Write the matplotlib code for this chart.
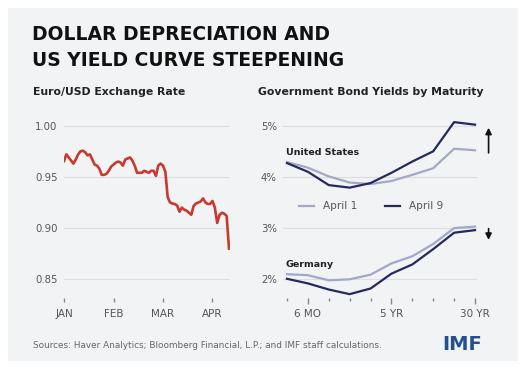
import numpy as np
import matplotlib
matplotlib.use("Agg")
import matplotlib.pyplot as plt
from matplotlib.patches import Rectangle
from matplotlib.lines import Line2D

W, H = 526, 371

# Euro per USD, business days from early January to April 9
eur_usd = [0.9655, 0.972, 0.969, 0.966, 0.963, 0.967, 0.972, 0.975, 0.9756, 0.974,
           0.971, 0.972, 0.967, 0.962, 0.961, 0.958, 0.952, 0.952, 0.953, 0.956,
           0.960, 0.962, 0.964, 0.965, 0.964, 0.961, 0.967, 0.968, 0.969, 0.966,
           0.961, 0.954, 0.954, 0.954, 0.956, 0.955, 0.954, 0.956, 0.956, 0.951,
           0.961, 0.963, 0.961, 0.955, 0.930, 0.925, 0.924, 0.9235, 0.922, 0.916,
           0.920, 0.918, 0.917, 0.915, 0.913, 0.9216, 0.924, 0.925, 0.926, 0.929,
           0.925, 0.9236, 0.9236, 0.9265, 0.920, 0.905, 0.913, 0.915, 0.914, 0.912,
           0.880]
month_labels = ["JAN", "FEB", "MAR", "APR"]
month_ticks = [0, 21, 42, 63]
fx_yticks = [0.85, 0.90, 0.95, 1.00]

# maturities: 3M 6M 1Y 2Y 3Y 5Y 7Y 10Y 20Y 30Y
maturities = ["3 MO", "6 MO", "1 YR", "2 YR", "3 YR", "5 YR", "7 YR", "10 YR", "20 YR", "30 YR"]
us_apr1 = [4.29, 4.18, 4.01, 3.89, 3.86, 3.92, 4.04, 4.17, 4.55, 4.52]
us_apr9 = [4.27, 4.10, 3.84, 3.79, 3.88, 4.08, 4.30, 4.50, 5.07, 5.02]
de_apr1 = [2.10, 2.08, 1.98, 2.00, 2.09, 2.31, 2.45, 2.69, 3.00, 3.03]
de_apr9 = [2.01, 1.92, 1.80, 1.71, 1.82, 2.11, 2.29, 2.59, 2.91, 2.96]
yld_yticks = [2, 3, 4, 5]
yld_labeled = {1: "6 MO", 5: "5 YR", 9: "30 YR"}

red = "#c8392f"
navy = "#232a5c"
light = "#a2a9c6"
panel = "#f2f3f5"
grid = "#dcdee2"
txt = "#555555"


def px(x, y):
    return x / W, 1 - y / H


def box(l, t, r, b):
    return [l / W, 1 - b / H, (r - l) / W, (b - t) / H]


fig = plt.figure(figsize=(W / 100, H / 100), dpi=100, facecolor="white")
fig.patches.append(Rectangle(px(8, 361), 510 / W, 353 / H, transform=fig.transFigure,
                             facecolor=panel, edgecolor="none", zorder=-10))

fig.text(*px(32, 35), "DOLLAR DEPRECIATION AND", fontsize=13.5, fontweight="bold",
         family="DejaVu Sans", va="center", color="#111111")
fig.text(*px(32, 60), "US YIELD CURVE STEEPENING", fontsize=13.5, fontweight="bold",
         family="DejaVu Sans", va="center", color="#111111")
fig.text(*px(33, 92), "Euro/USD Exchange Rate", fontsize=7.8, fontweight="bold",
         va="center", color="#222222")
fig.text(*px(258, 92), "Government Bond Yields by Maturity", fontsize=7.8, fontweight="bold",
         va="center", color="#222222")
fig.text(*px(33, 345), "Sources: Haver Analytics; Bloomberg Financial, L.P.; and IMF staff calculations.",
         fontsize=6.4, va="center", color="#666666")
fig.text(*px(442, 345), "IMF", fontsize=14, fontweight="bold", va="center", color="#24508f")


def style(ax):
    ax.set_facecolor("none")
    for s in ax.spines.values():
        s.set_visible(False)
    ax.grid(axis="y", color=grid, lw=0.8)
    ax.set_axisbelow(True)
    ax.tick_params(axis="y", length=0, pad=4.5, labelsize=7.3, labelcolor=txt)
    ax.tick_params(axis="x", length=3, width=1, color="#888888", pad=5,
                   labelsize=7.5, labelcolor=txt)


# left panel
ax1 = fig.add_axes(box(64, 120, 230, 298))
style(ax1)
ax1.plot(range(len(eur_usd)), eur_usd, color=red, lw=1.9, solid_joinstyle="round")
ax1.set_xlim(0, (len(eur_usd) - 1) * 166 / 165)
ax1.set_ylim(1.00 - 172.3 * 0.05 / 51.2, 1.00 + 5.7 * 0.05 / 51.2)
ax1.set_yticks(fx_yticks)
ax1.set_yticklabels([f"{v:.2f}" for v in fx_yticks])
ax1.set_xticks(month_ticks)
ax1.set_xticklabels(month_labels)

# right panel
ax2 = fig.add_axes(box(283, 120, 477, 298))
style(ax2)
x = np.arange(len(maturities))
ax2.plot(x, us_apr1, color=light, lw=1.6)
ax2.plot(x, de_apr1, color=light, lw=1.6)
ax2.plot(x, us_apr9, color=navy, lw=1.6)
ax2.plot(x, de_apr9, color=navy, lw=1.6)
ax2.set_xlim(-4 / 20.9, 9 + 2 / 20.9)
ax2.set_ylim(5 - 172.3 / 51.2, 5 + 5.7 / 51.2)
ax2.set_yticks(yld_yticks)
ax2.set_yticklabels([f"{v}%" for v in yld_yticks])
ax2.set_xticks(x)
ax2.set_xticklabels([yld_labeled.get(i, "") for i in x])
for i, t in enumerate(ax2.xaxis.get_major_ticks()):
    t.tick1line.set_markersize(4 if i in yld_labeled else 2.5)

ax2.text(-0.05, 4.48, "United States", fontsize=6.8, fontweight="bold", color="#222222", va="center")
ax2.text(-0.05, 2.28, "Germany", fontsize=6.8, fontweight="bold", color="#222222", va="center")
ax2.annotate("", xy=(9.65, 4.96), xytext=(9.65, 4.47), annotation_clip=False,
             arrowprops=dict(arrowstyle="-|>", color="#111111", lw=1.2, mutation_scale=9,
                             shrinkA=0, shrinkB=0))
ax2.annotate("", xy=(9.65, 2.77), xytext=(9.65, 2.99), annotation_clip=False,
             arrowprops=dict(arrowstyle="-|>", color="#111111", lw=1.2, mutation_scale=9,
                             shrinkA=0, shrinkB=0))

handles = [Line2D([], [], color=light, lw=1.6), Line2D([], [], color=navy, lw=1.6)]
leg = ax2.legend(handles, ["April 1", "April 9"], loc="center", bbox_to_anchor=(0.455, 0.515),
                 ncol=2, frameon=False, fontsize=7.6, handlelength=1.4, columnspacing=2.6,
                 handletextpad=0.9)
for t in leg.get_texts():
    t.set_color(txt)

fig.savefig("out.png", dpi=100, facecolor="white")
